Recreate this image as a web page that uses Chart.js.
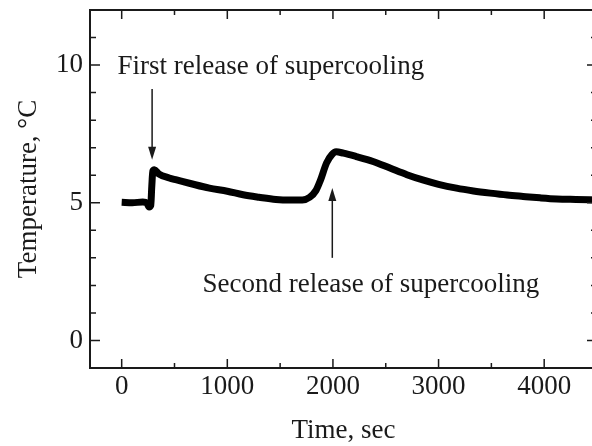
<!DOCTYPE html>
<html>
<head>
<meta charset="utf-8">
<script src="https://cdn.jsdelivr.net/npm/chart.js@4.4.1/dist/chart.umd.min.js"></script>
<style>
  html, body { margin: 0; padding: 0; background: #fff; overflow: hidden; }
  #wrap { width: 592px; height: 446px; overflow: hidden; }
</style>
</head>
<body>
<div id="wrap"><canvas id="tempChart" width="600" height="446"></canvas></div>
<script>
// time (sec) and temperature (degC)
var times = [0, 100, 200, 240, 260, 275, 285, 295, 310, 350, 450, 520, 650, 830, 1000, 1150, 1300, 1460, 1600, 1710,
             1780, 1840, 1880, 1940, 1990, 2030, 2100, 2220, 2380, 2540, 2700, 2850, 3000, 3170, 3330, 3490, 3650,
             3800, 3960, 4120, 4300, 4500];
var temps = [5.02, 5.0, 5.03, 4.98, 4.85, 4.9, 5.6, 6.15, 6.2, 6.05, 5.9, 5.83, 5.7, 5.53, 5.42, 5.29, 5.2, 5.12, 5.1, 5.1,
             5.2, 5.45, 5.8, 6.45, 6.75, 6.85, 6.8, 6.68, 6.5, 6.26, 6.02, 5.83, 5.67, 5.53, 5.43, 5.35, 5.28,
             5.23, 5.18, 5.14, 5.12, 5.1];
var xTicks = [0, 1000, 2000, 3000, 4000];
var yTicks = [0, 5, 10];
var xRange = [-300, 4500];
var yRange = [-1, 12];

var points = [];
for (var i = 0; i < times.length; i++) {
    points.push({ x: times[i], y: temps[i] });
}

var ink = '#1a1a1a';
var serif = '"Liberation Serif", "Times New Roman", serif';

function fixTicks(list) {
    return function(scale) {
        scale.ticks = list.map(function(v) { return { value: v }; });
    };
}
function noPadding(size, prop) {
    return function(scale) {
        scale[prop] = size;
        scale.paddingTop = 0; scale.paddingBottom = 0;
        scale.paddingLeft = 0; scale.paddingRight = 0;
    };
}

// frame, inward ticks, arrows and notes
var framePlugin = {
    id: 'frame',
    afterDraw: function(chart) {
        var ctx = chart.ctx;
        var ca = chart.chartArea;
        var xs = chart.scales.x;
        var ys = chart.scales.y;
        ctx.save();
        ctx.strokeStyle = ink;
        ctx.lineWidth = 2;
        ctx.strokeRect(ca.left, ca.top, ca.right - ca.left, ca.bottom - ca.top);

        ctx.lineWidth = 1.5;
        ctx.beginPath();
        for (var v = 0; v < xRange[1]; v += 500) {
            var px = xs.getPixelForValue(v);
            var len = (v % 1000 === 0) ? 9 : 5;
            ctx.moveTo(px, ca.bottom); ctx.lineTo(px, ca.bottom - len);
            ctx.moveTo(px, ca.top); ctx.lineTo(px, ca.top + len);
        }
        for (var t = 0; t < yRange[1]; t += 1) {
            var py = ys.getPixelForValue(t);
            var l2 = (t % 5 === 0) ? 10 : 6;
            ctx.moveTo(ca.left, py); ctx.lineTo(ca.left + l2, py);
            ctx.moveTo(ca.right, py); ctx.lineTo(ca.right - l2, py);
        }
        ctx.stroke();

        // arrows
        function arrow(xv, fromY, toY) {
            var ax = xs.getPixelForValue(xv);
            var y0 = ys.getPixelForValue(fromY);
            var y1 = ys.getPixelForValue(toY);
            var dir = y1 > y0 ? 1 : -1;
            ctx.lineWidth = 1.5;
            ctx.beginPath();
            ctx.moveTo(ax, y0);
            ctx.lineTo(ax, y1 - dir * 10);
            ctx.stroke();
            ctx.beginPath();
            ctx.moveTo(ax, y1);
            ctx.lineTo(ax - 4, y1 - dir * 13);
            ctx.lineTo(ax + 4, y1 - dir * 13);
            ctx.closePath();
            ctx.fillStyle = ink;
            ctx.fill();
        }
        arrow(288, 9.13, 6.56);
        arrow(1994, 3.0, 5.54);

        ctx.fillStyle = ink;
        ctx.font = '27px ' + serif;
        ctx.textAlign = 'left';
        ctx.textBaseline = 'alphabetic';
        ctx.fillText('First release of supercooling', xs.getPixelForValue(-40), ys.getPixelForValue(9.67));
        ctx.fillText('Second release of supercooling', xs.getPixelForValue(766), ys.getPixelForValue(1.75));
        ctx.restore();
    }
};

var ctx = document.getElementById('tempChart').getContext('2d');
var chartObj = new Chart(ctx, {
    type: 'scatter',
    data: {
        datasets: [{
            data: points,
            showLine: true,
            borderColor: '#000',
            backgroundColor: '#000',
            borderWidth: 7,
            pointRadius: 0,
            tension: 0.3,
            cubicInterpolationMode: 'monotone'
        }]
    },
    options: {
        responsive: false,
        animation: false,
        layout: { padding: { top: 10, right: 3, left: 0, bottom: 0 } },
        plugins: {
            legend: { display: false },
            tooltip: { enabled: false }
        },
        scales: {
            x: {
                type: 'linear',
                min: xRange[0],
                max: xRange[1],
                grid: { display: false, drawTicks: false },
                border: { display: false },
                afterBuildTicks: fixTicks(xTicks),
                ticks: {
                    autoSkip: false,
                    maxRotation: 0,
                    padding: 3,
                    color: ink,
                    font: { family: serif, size: 27 },
                    callback: function(v) { return String(v); }
                },
                title: {
                    display: true,
                    text: 'Time, sec',
                    color: ink,
                    font: { family: serif, size: 27, lineHeight: 1 },
                    padding: { top: 0, bottom: 2 }
                },
                afterFit: noPadding(78, 'height')
            },
            y: {
                type: 'linear',
                min: yRange[0],
                max: yRange[1],
                grid: { display: false, drawTicks: false },
                border: { display: false },
                afterBuildTicks: fixTicks(yTicks),
                ticks: {
                    autoSkip: false,
                    padding: 7,
                    color: ink,
                    font: { family: serif, size: 27 },
                    callback: function(v) { return String(v); }
                },
                title: {
                    display: true,
                    text: 'Temperature, \u00B0C',
                    color: ink,
                    font: { family: serif, size: 27, lineHeight: 1 },
                    padding: { top: 15, bottom: 0 }
                },
                afterFit: noPadding(90, 'width')
            }
        }
    },
    plugins: [framePlugin]
});
</script>
</body>
</html>
